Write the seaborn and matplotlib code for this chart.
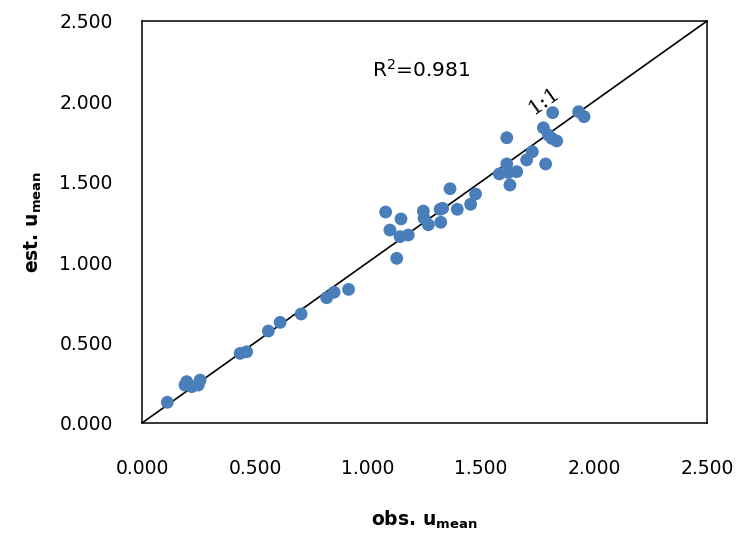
import matplotlib
matplotlib.use("Agg")
import matplotlib.pyplot as plt
import seaborn as sns
import pandas as pd

obs = [0.112, 0.190, 0.198, 0.220, 0.249, 0.257, 0.434, 0.463, 0.559, 0.611,
       0.704, 0.817, 0.850, 0.914, 1.078, 1.097, 1.127, 1.142, 1.146, 1.178,
       1.245, 1.248, 1.267, 1.319, 1.330, 1.322, 1.363, 1.395, 1.454, 1.476,
       1.581, 1.614, 1.614, 1.621, 1.628, 1.658, 1.702, 1.727, 1.776, 1.786,
       1.798, 1.817, 1.835, 1.813, 1.932, 1.956]
est = [0.129, 0.236, 0.257, 0.226, 0.236, 0.267, 0.433, 0.443, 0.572, 0.626,
       0.678, 0.779, 0.813, 0.831, 1.312, 1.200, 1.024, 1.159, 1.269, 1.169,
       1.318, 1.273, 1.233, 1.329, 1.335, 1.248, 1.457, 1.329, 1.360, 1.424,
       1.549, 1.611, 1.774, 1.557, 1.480, 1.563, 1.636, 1.687, 1.836, 1.611,
       1.791, 1.930, 1.754, 1.770, 1.936, 1.905]
ticks = [0.0, 0.5, 1.0, 1.5, 2.0, 2.5]
tick_labels = ["0.000", "0.500", "1.000", "1.500", "2.000", "2.500"]
r2_text = "R$^2$=0.981"
one_to_one = "1:1"

df = pd.DataFrame({"obs": obs, "est": est})

sns.set_theme(style="white")
plt.rcParams["font.family"] = ["DejaVu Sans"]
plt.rcParams["mathtext.default"] = "regular"

fig = plt.figure(figsize=(7.41, 5.44), dpi=100)
ax = fig.add_axes([142 / 741, 1 - 423 / 544, (707 - 142) / 741, (423 - 21) / 544])

ax.plot([0, 2.5], [0, 2.5], color="black", lw=1.2, zorder=1)
sns.scatterplot(data=df, x="obs", y="est", ax=ax, color="#4A7EBB",
                s=85, edgecolor="none", linewidth=0, zorder=2)

ax.set_xlim(0, 2.5)
ax.set_ylim(0, 2.5)
ax.set_xticks(ticks)
ax.set_yticks(ticks)
ax.set_xticklabels(tick_labels)
ax.set_yticklabels(tick_labels)
ax.tick_params(axis="both", direction="in", length=5, width=1.1,
               color="black", labelsize=13.5, labelcolor="black")
ax.tick_params(axis="x", pad=26)
ax.tick_params(axis="y", pad=21)
for sp in ax.spines.values():
    sp.set_color("black")
    sp.set_linewidth(1.1)

ax.set_xlabel("obs. u$_{mean}$", fontsize=13.5, fontweight="bold",
              color="black", labelpad=22)
ax.set_ylabel("est. u$_{mean}$", fontsize=13.5, fontweight="bold",
              color="black", labelpad=11)

ax.text(1.018, 2.15, r2_text, fontsize=14.5, color="black",
        ha="left", va="baseline")
ax.text(1.779, 2.005, one_to_one, fontsize=15, color="black",
        family="DejaVu Serif", ha="center", va="center", rotation=35.5)

fig.savefig("out.png", dpi=100)
